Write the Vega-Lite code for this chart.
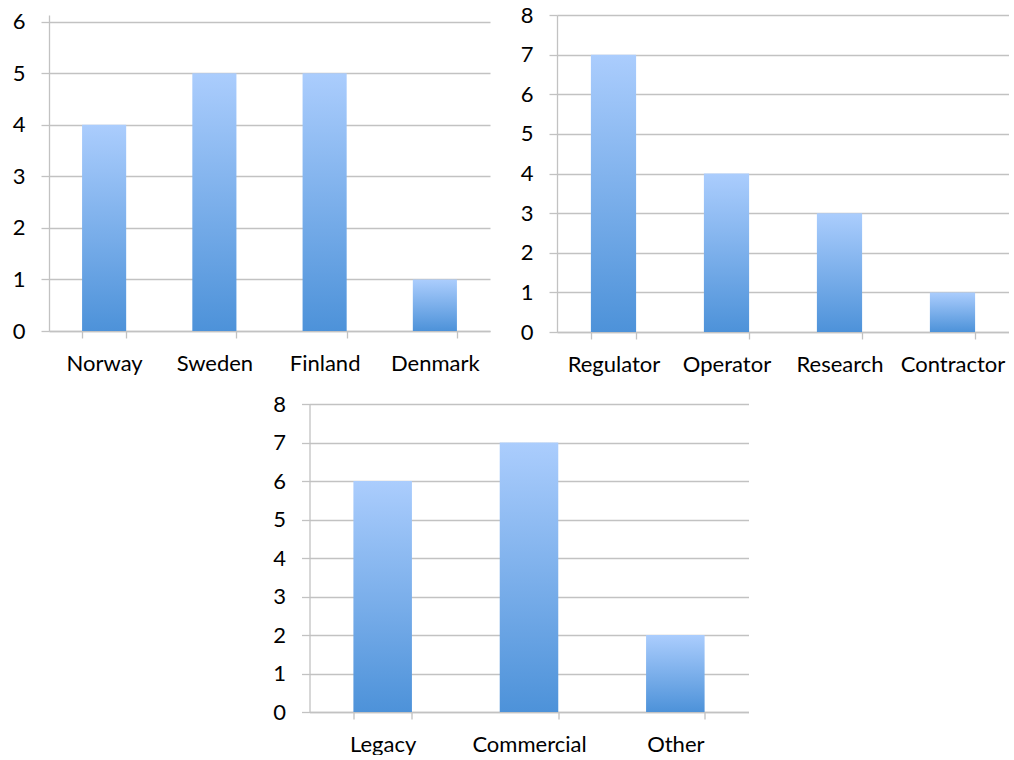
{
  "$schema": "https://vega.github.io/schema/vega-lite/v6.json",
  "padding": {"left": 12, "top": 4, "right": 0, "bottom": 0},
  "config": {
    "font": "Lato",
    "view": {"stroke": null},
    "axis": {
      "labelFont": "Lato",
      "labelFontSize": 22,
      "labelColor": "#000000",
      "domainColor": "#c2c2c2",
      "domainWidth": 1.3,
      "tickColor": "#c2c2c2",
      "tickWidth": 1.3,
      "gridColor": "#c2c2c2",
      "gridWidth": 1.3,
      "gridOpacity": 1,
      "title": null
    },
    "axisX": {
      "grid": false,
      "tickBand": "extent",
      "tickSize": 7,
      "labelPadding": 15,
      "labelAngle": 0
    },
    "axisY": {
      "grid": true,
      "tickSize": 8,
      "labelPadding": 16
    },
    "bar": {
      "fill": {
        "gradient": "linear",
        "x1": 0, "y1": 0, "x2": 0, "y2": 1,
        "stops": [
          {"offset": 0, "color": "#abcdfd"},
          {"offset": 1, "color": "#4d92d9"}
        ]
      }
    }
  },
  "center": true,
  "spacing": 18,
  "vconcat": [
    {
      "spacing": 30,
      "hconcat": [
        {
          "width": 441,
          "height": 316,
          "data": {"values": [
            {"country": "Norway", "count": 4},
            {"country": "Sweden", "count": 5},
            {"country": "Finland", "count": 5},
            {"country": "Denmark", "count": 1}
          ]},
          "mark": {"type": "bar"},
          "encoding": {
            "x": {"field": "country", "type": "nominal", "sort": null,
                  "scale": {"paddingInner": 0.6, "paddingOuter": 0.3}},
            "y": {"field": "count", "type": "quantitative",
                  "scale": {"domain": [0, 6.13], "nice": false},
                  "axis": {"values": [0, 1, 2, 3, 4, 5, 6]}}
          }
        },
        {
          "width": 452,
          "height": 317,
          "data": {"values": [
            {"role": "Regulator", "count": 7},
            {"role": "Operator", "count": 4},
            {"role": "Research", "count": 3},
            {"role": "Contractor", "count": 1}
          ]},
          "mark": {"type": "bar"},
          "encoding": {
            "x": {"field": "role", "type": "nominal", "sort": null,
                  "scale": {"paddingInner": 0.6, "paddingOuter": 0.3}},
            "y": {"field": "count", "type": "quantitative",
                  "scale": {"domain": [0, 8], "nice": false},
                  "axis": {"values": [0, 1, 2, 3, 4, 5, 6, 7, 8]}}
          }
        }
      ]
    },
    {
      "width": 439,
      "height": 308,
      "data": {"values": [
        {"system": "Legacy", "count": 6},
        {"system": "Commercial", "count": 7},
        {"system": "Other", "count": 2}
      ]},
      "mark": {"type": "bar"},
      "encoding": {
        "x": {"field": "system", "type": "nominal", "sort": null,
              "scale": {"paddingInner": 0.6, "paddingOuter": 0.3}},
        "y": {"field": "count", "type": "quantitative",
              "scale": {"domain": [0, 8], "nice": false},
              "axis": {"values": [0, 1, 2, 3, 4, 5, 6, 7, 8]}}
      }
    }
  ]
}
